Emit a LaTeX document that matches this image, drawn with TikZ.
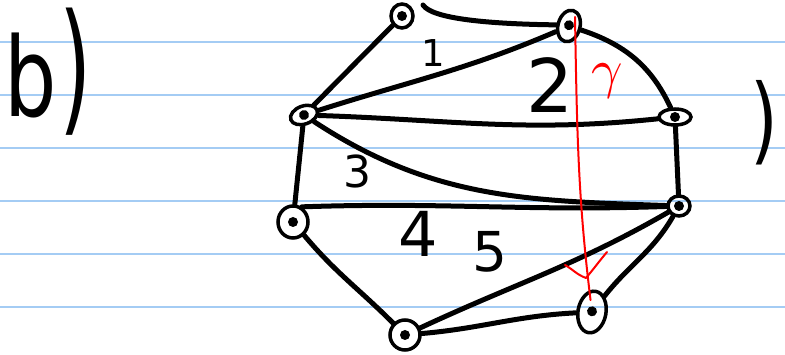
\documentclass[tikz,border=0pt]{standalone}
\usepackage{fontspec}
\setmainfont{DejaVu Sans}
\usetikzlibrary{shapes.geometric}
\definecolor{ruleblue}{RGB}{164,204,244}

\begin{document}
\begin{tikzpicture}[x=1pt, y=1pt,
    vtx/.style={ellipse, draw, line width=3.5pt, inner sep=0pt,
        path picture={\fill (path picture bounding box.center) circle (5pt);}},
    edge/.style={line width=5pt, line cap=round, line join=round},
    ruled/.style={line width=2pt, ruleblue},
    redline/.style={line width=2pt, red, line cap=round, line join=round},
    lbl/.style={inner sep=0pt}]
    \useasboundingbox (0,0) rectangle (785,355);

    % Ruled paper
    \foreach \yy in {313,260,207,154,101,48}
        \draw[ruled] (0,\yy) -- (785,\yy);

    % Heading
    \node[lbl, anchor=base west, font=\fontsize{110}{110}\selectfont] (head) at (4,238)
        {\scalebox{0.75}[1]{b\hspace{4pt}\scalebox{1}[1.3]{)}}};
    \node[lbl, anchor=base west, font=\fontsize{95}{95}\selectfont] (close) at (750,202)
        {\scalebox{0.75}[1]{)}};

    % Vertices
    \node[vtx, minimum width=22pt, minimum height=24pt] (T) at (402,339) {};
    \node[vtx, minimum width=22pt, minimum height=32pt, rotate=-15] (TR) at (569,329) {};
    \node[vtx, minimum width=32pt, minimum height=16pt] (R) at (675,238) {};
    \node[vtx, minimum width=28pt, minimum height=18pt, rotate=20] (L) at (304,240) {};
    \node[vtx, minimum width=30pt, minimum height=32pt] (BL) at (293,133) {};
    \node[vtx, minimum width=22pt, minimum height=20pt] (RM) at (679,149) {};
    \node[vtx, minimum width=30pt, minimum height=30pt] (B) at (405,20) {};
    \node[vtx, minimum width=28pt, minimum height=42pt, rotate=-10] (BR) at (592,43) {};

    % Edges
    \coordinate (tstart) at (423,350);
    \draw[edge] (T) -- (L);
    \draw[edge] (tstart) .. controls (432,336) and (490,331) .. (TR.190);
    \draw[edge] (L) to[out=15, in=205] (TR);
    \draw[edge] (TR) to[out=-15, in=115] (R);
    \draw[edge] (L) to[out=-4, in=186] (R);
    \draw[edge] (L) to[out=-35, in=178] (RM);
    \draw[edge] (R) -- (RM);
    \draw[edge] (L) -- (BL);
    \draw[edge] (BL.60) to[out=2, in=182] (RM);
    \draw[edge] (BL) to[out=-50, in=135] (B);
    \draw[edge] (B) to[out=25, in=210] (RM);
    \draw[edge] (B) to[out=5, in=185] (BR);
    \draw[edge] (BR) to[out=55, in=240] (RM);

    % Face numbers
    \node[lbl, font=\fontsize{37}{37}\selectfont] (f1) at (433,302) {1};
    \node[lbl, font=\fontsize{74}{74}\selectfont] (f2) at (550,270) {2};
    \node[lbl, font=\fontsize{44}{44}\selectfont] (f3) at (357,184) {3};
    \node[lbl, font=\fontsize{62}{62}\selectfont] (f4) at (418,121) {4};
    \node[lbl, font=\fontsize{55}{55}\selectfont] (f5) at (490,103) {5};

    % Path gamma
    \coordinate (gtop) at (575,338);
    \draw[redline, shorten >=12pt] (gtop) to[out=-89, in=97] (BR.center);
    \draw[redline] (565,90) to[out=-30, in=160] (586,77) to[out=50, in=-130] (607,103);
    \node[lbl, text=red] (gam) at (607,274) {\scalebox{5.5}{$\gamma$}};
\end{tikzpicture}
\end{document}
